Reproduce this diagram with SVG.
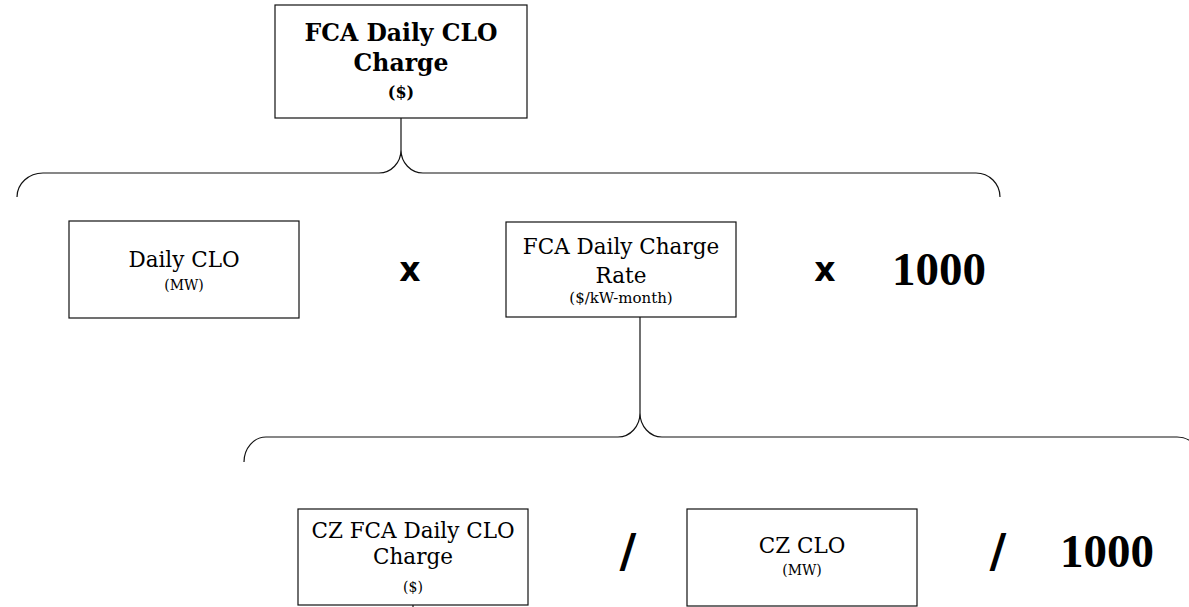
<svg xmlns="http://www.w3.org/2000/svg" width="1189" height="607" viewBox="0 0 1189 607">
<style>
.box{fill:#fff;stroke:#111;stroke-width:1.2}
.con{fill:none;stroke:#111;stroke-width:1.2}
.t{font-family:"DejaVu Serif","Liberation Serif",serif;text-anchor:middle;fill:#000}
.lab{font-size:21.5px}
.small{font-size:14px}
.bold{font-weight:bold}
.op{font-family:"DejaVu Sans","Liberation Sans",sans-serif;font-weight:bold;text-anchor:middle;fill:#000}
.num{font-family:"Liberation Serif",serif;font-weight:bold;font-size:47px;fill:#000}
</style>
<rect width="1189" height="607" fill="#fff"/>
<g id="connectors">
<line class="con" x1="401" y1="118" x2="401" y2="150"/>
<path class="con" d="M17,197 A26 24 0 0 1 43,173 L379,173 A22 23 0 0 0 401,150 A22 23 0 0 0 423,173 L976,173 A24 24 0 0 1 1000,197"/>
<line class="con" x1="640" y1="317" x2="640" y2="413"/>
<path class="con" d="M244,462 A22 25 0 0 1 266,437 L618,437 A22 24 0 0 0 640,413 A22 24 0 0 0 662,437 L1177,437 A24 24 0 0 1 1201,461"/>
<line class="con" x1="413" y1="605" x2="413" y2="612"/>
</g>
<g id="node-fca-daily-clo-charge">
<rect class="box" x="275" y="5" width="252" height="113"/>
<text class="t bold" x="401" y="41" font-size="23.5">FCA Daily CLO</text>
<text class="t bold" x="401" y="71" font-size="23.5">Charge</text>
<text class="t bold" x="401" y="98" font-size="16">($)</text>
</g>
<g id="node-daily-clo">
<rect class="box" x="69" y="221" width="230" height="97"/>
<text class="t lab" x="184" y="267">Daily CLO</text>
<text class="t small" x="184" y="290">(MW)</text>
</g>
<g id="node-fca-daily-charge-rate">
<rect class="box" x="506" y="222" width="230" height="95"/>
<text class="t lab" x="621" y="254">FCA Daily Charge</text>
<text class="t lab" x="621" y="283">Rate</text>
<text class="t" x="621" y="303" font-size="15">($/kW-month)</text>
</g>
<g id="node-cz-fca-daily-clo-charge">
<rect class="box" x="298" y="509" width="230" height="96"/>
<text class="t lab" x="413" y="538">CZ FCA Daily CLO</text>
<text class="t lab" x="413" y="564">Charge</text>
<text class="t" x="413" y="592" font-size="14">($)</text>
</g>
<g id="node-cz-clo">
<rect class="box" x="687" y="509" width="230" height="97"/>
<text class="t lab" x="802" y="553">CZ CLO</text>
<text class="t small" x="802" y="575">(MW)</text>
</g>
<g id="operators">
<text class="op" x="410" y="281" font-size="33">x</text>
<text class="op" x="825" y="281" font-size="33">x</text>
<text class="num" x="892" y="285">1000</text>
<text class="op" x="628" y="567" font-size="46">/</text>
<text class="op" x="998" y="567" font-size="46">/</text>
<text class="num" x="1060" y="567">1000</text>
</g>
</svg>
